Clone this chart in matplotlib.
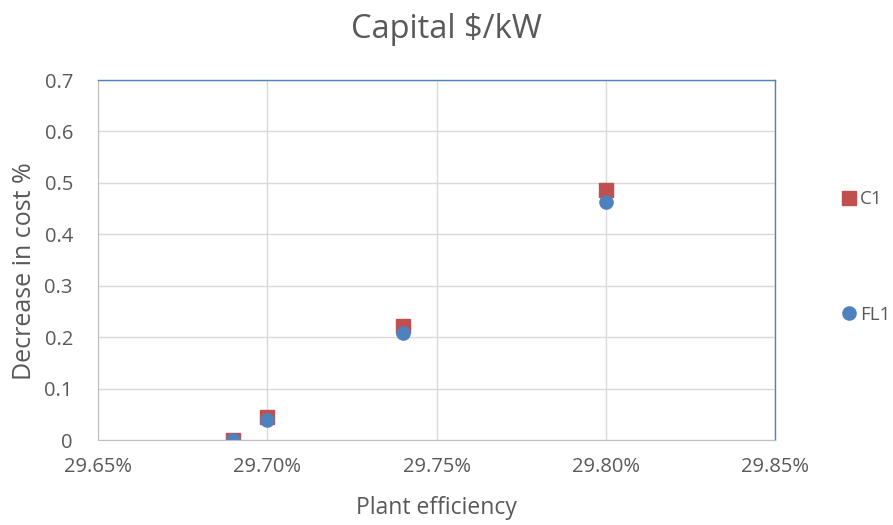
import matplotlib
matplotlib.use("Agg")
import matplotlib.pyplot as plt
from matplotlib.lines import Line2D

plt.rcParams['font.family'] = ['Open Sans', 'DejaVu Sans']

efficiency = [29.69, 29.70, 29.74, 29.80]
c1 = [0.0, 0.045, 0.222, 0.487]
fl1 = [0.0, 0.039, 0.208, 0.462]
x_ticks = [29.65, 29.70, 29.75, 29.80, 29.85]
y_ticks = [0, 0.1, 0.2, 0.3, 0.4, 0.5, 0.6, 0.7]

fig = plt.figure(figsize=(8.93, 5.25), dpi=100)
ax = fig.add_axes([0.1097, 0.1619, 0.868 - 0.1097, 0.8476 - 0.1619])

ax.plot(efficiency, c1, linestyle='none', marker='s', markersize=9.5, color='#C0504D', label='C1')
ax.plot(efficiency, fl1, linestyle='none', marker='o', markersize=9.5, color='#4F81BD', label='FL1')

ax.set_xlim(29.65, 29.85)
ax.set_ylim(0, 0.7)
ax.set_xticks(x_ticks)
ax.set_xticklabels([f"{v:.2f}%" for v in x_ticks])
ax.set_yticks(y_ticks)
ax.set_yticklabels(["0" if v == 0 else f"{v:.1f}" for v in y_ticks])
ax.grid(True, color='#D9D9D9', linewidth=1)
ax.set_axisbelow(True)
ax.tick_params(length=0, labelsize=14.5, colors='#595959')
ax.tick_params(axis='x', pad=12)
ax.tick_params(axis='y', pad=18)

for s in ['top', 'right']:
    ax.spines[s].set_color('#4F81BD')
    ax.spines[s].set_linewidth(1)
ax.spines['left'].set_color('#BFBFBF')
ax.spines['bottom'].set_color('#BFBFBF')

ax.set_xlabel('Plant efficiency', fontsize=16.5, color='#595959')
ax.xaxis.set_label_coords(0.5, -0.155)
ax.set_ylabel('Decrease in cost %', fontsize=18, color='#595959')
ax.yaxis.set_label_coords(-0.090, 0.47)
fig.suptitle('Capital \\$/kW', fontsize=23.5, color='#595959', y=0.975)

handles = [Line2D([], [], linestyle='none', marker='s', markersize=9.5, color='#C0504D'),
           Line2D([], [], linestyle='none', marker='o', markersize=9.5, color='#4F81BD')]
leg = fig.legend(handles, ['C1', 'FL1'], loc='center left', bbox_to_anchor=(0.94, 0.51),
                 frameon=False, fontsize=13.5, labelspacing=5.2, handletextpad=0.1,
                 handlelength=1.0, borderaxespad=0, borderpad=0)
for t in leg.get_texts():
    t.set_color('#595959')

fig.savefig('out.png', dpi=100)
